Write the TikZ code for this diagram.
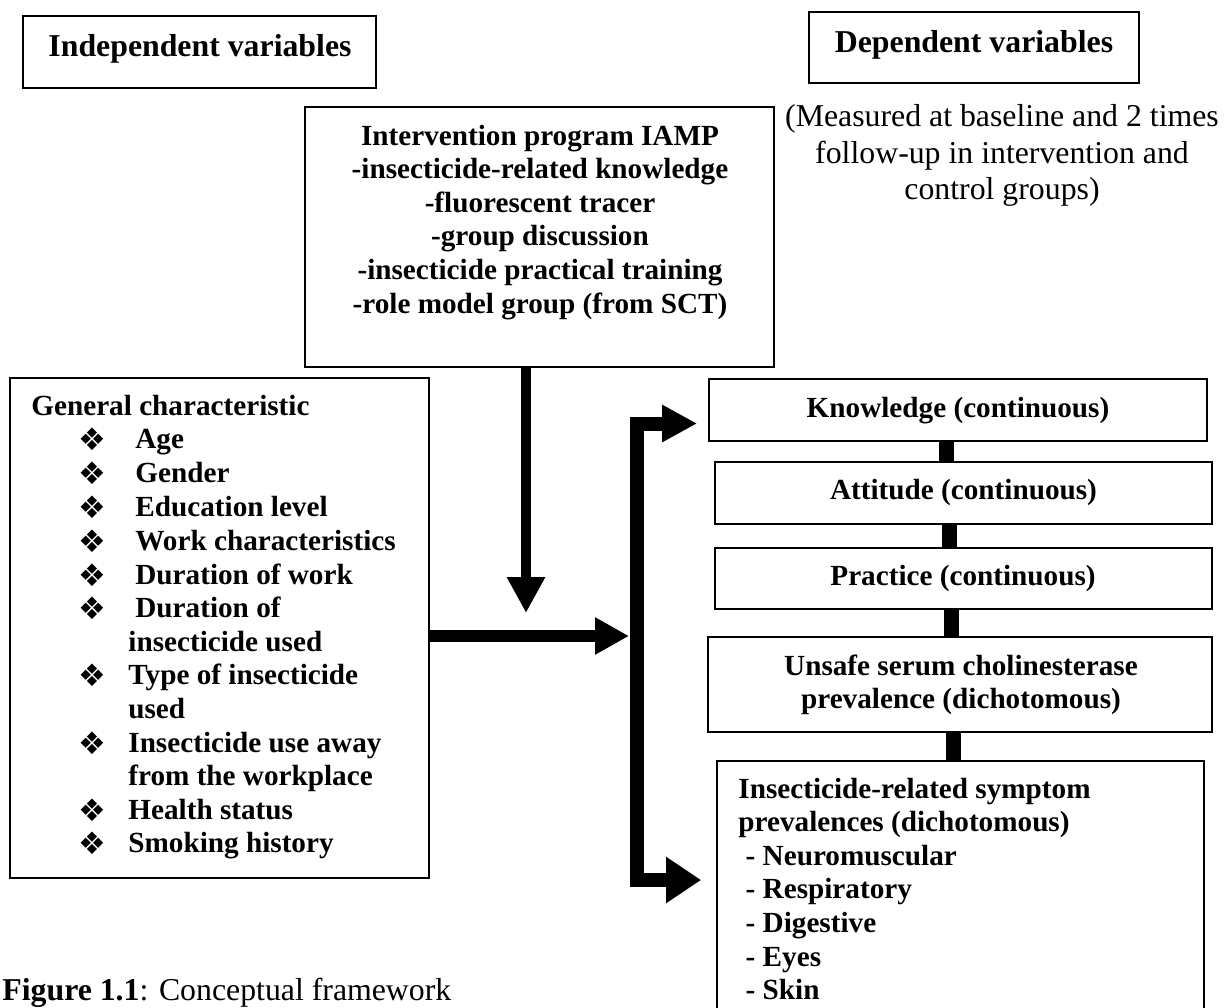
\documentclass[tikz,border=0pt]{standalone}
\usepackage{fontspec}
\setmainfont{Liberation Serif}
\newfontfamily\symfont{DejaVu Sans}
\usetikzlibrary{arrows.meta,fit,calc}

\tikzset{
  box/.style={draw, line width=0.9pt, inner sep=0pt},
  txt/.style={inner sep=0pt, anchor=base, font=\fontsize{14.6}{16.8}\selectfont\bfseries},
  txtl/.style={txt, anchor=base west},
  hdr/.style={inner sep=0pt, anchor=base, font=\fontsize{15.9}{18.5}\selectfont\bfseries},
  note/.style={inner sep=0pt, anchor=base, font=\fontsize{15.9}{18.5}\selectfont},
  bul/.style={inner sep=0pt, anchor=center, font=\symfont\fontsize{15.5}{15.5}\selectfont},
  link/.style={line width=7.5pt},
}

\begin{document}
\begin{tikzpicture}[x=0.5pt, y=-0.5pt]
\useasboundingbox (0,0) rectangle (1225,1007);
\fill[white] (0,0) rectangle (1225,1007);

% ---- boxes ----
\node[box, fit={(23,16) (376,88)}] (indep) {};
\node[box, fit={(809,12) (1139,83)}] (dep) {};
\node[box, fit={(305,107) (774,367)}] (inter) {};
\node[box, fit={(10,378) (429,878)}] (gen) {};
\node[box, fit={(709,379) (1207,441)}] (know) {};
\node[box, fit={(715,462) (1212,524)}] (att) {};
\node[box, fit={(715,548) (1212,609)}] (prac) {};
\node[box, fit={(708,637) (1212,732)}] (chol) {};
\node[box, fit={(717,761) (1204,1040)}] (sym) {};

% ---- headings ----
\node[hdr] (indepT) at (200,56) {Independent variables};
\node[hdr] (depT) at (974,52) {Dependent variables};
\node[note] (meas1) at (1002,126) {(Measured at baseline and 2 times};
\node[note] (meas2) at (1002,163) {follow-up in intervention and};
\node[note] (meas3) at (1002,199) {control groups)};

% ---- intervention program ----
\foreach \t [count=\i] in {Intervention program IAMP,
    -insecticide-related knowledge,
    -fluorescent tracer,
    -group discussion,
    -insecticide practical training,
    -role model group (from SCT)}
  \node[txt] (int\i) at (540,{145+33.6*(\i-1)}) {\t};

% ---- general characteristics ----
\node[txtl] (genT) at (31,415) {General characteristic};
\foreach \y [count=\i] in {448,482,516,550,584,617,684,752,819,852}
  \node[bul] (bul\i) at (92,\y-9) {❖};
\foreach \t/\x/\y [count=\i] in {
    Age/135/448, Gender/135/482, Education level/135/516,
    Work characteristics/135/550, Duration of work/135/584,
    Duration of/135/617, insecticide used/128/651,
    Type of insecticide/128/684, used/128/718,
    Insecticide use away/128/752, from the workplace/128/785,
    Health status/128/819, Smoking history/128/852}
  \node[txtl] (item\i) at (\x,\y) {\t};

% ---- outcomes ----
\node[txt] (knowT) at (958,417) {Knowledge (continuous)};
\node[txt] (attT) at (963.5,499) {Attitude (continuous)};
\node[txt] (pracT) at (963,585) {Practice (continuous)};
\node[txt] (cholT1) at (961,675) {Unsafe serum cholinesterase};
\node[txt] (cholT2) at (961,708) {prevalence (dichotomous)};
\foreach \t [count=\i] in {Insecticide-related symptom,
    prevalences (dichotomous),
    \ - Neuromuscular, \ - Respiratory, \ - Digestive, \ - Eyes, \ - Skin}
  \node[txtl] (sym\i) at (738,{798+33.6*(\i-1)}) {\t};

% ---- caption ----
\node[inner sep=0pt, anchor=base west, font=\fontsize{15.9}{18.5}\selectfont]
  (cap) at (2,1000) {\textbf{Figure 1.1}: Conceptual framework};

% ---- links between outcome boxes ----
\coordinate (l1) at (946,0);
\coordinate (l2) at (949.5,0);
\coordinate (l3) at (951,0);
\coordinate (l4) at (953.5,0);
\draw[link] (know.south -| l1) -- (att.north -| l1);
\draw[link] (att.south -| l2) -- (prac.north -| l2);
\draw[link] (prac.south -| l3) -- (chol.north -| l3);
\draw[link] (chol.south -| l4) -- (sym.north -| l4);

% ---- arrows ----
\coordinate (dn) at (526,613);
\draw[line width=5pt, -{Triangle[length=18pt, width=18pt]}]
  (inter.south -| dn) -- (dn);
\coordinate (jn) at (629,636);
\draw[line width=6pt, -{Triangle[length=17pt, width=17.5pt]}]
  (gen.east |- jn) -- (jn);
\coordinate (bt) at (636.5,423.5);
\coordinate (bb) at (636.5,880);
\draw[line width=7pt, line join=miter, -{Triangle[length=17.5pt, width=17.5pt]},
  shorten >=5.5pt] (bb) -- (bt) -- (bt -| know.west);
\draw[line width=7pt, line join=miter, -{Triangle[length=17.5pt, width=22pt]},
  shorten >=7.5pt] (bt) -- (bb) -- (bb -| sym.west);
\end{tikzpicture}
\end{document}
